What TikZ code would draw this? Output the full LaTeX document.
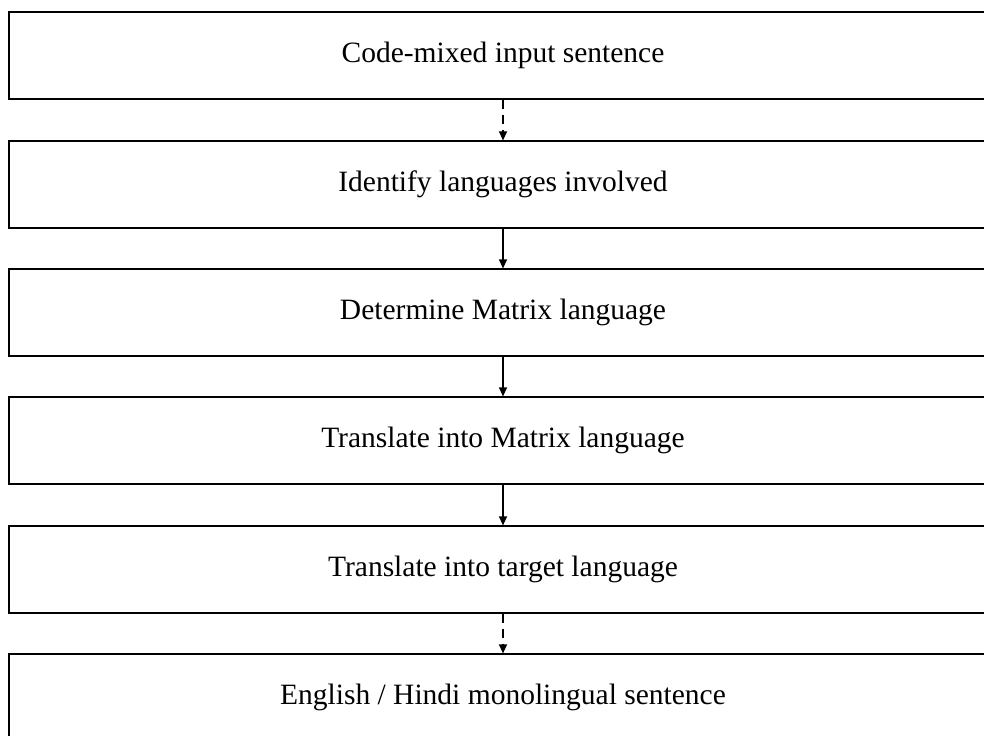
\documentclass[tikz,border=0pt]{standalone}
\usepackage{fontspec}
\setmainfont{Liberation Serif}
\usetikzlibrary{arrows.meta}
\begin{document}
\begin{tikzpicture}[x=1bp,y=-1bp,
  stepbox/.style={draw=black,line width=1.2bp,minimum width=988bp,minimum height=87bp,inner sep=0pt,
    font=\fontsize{29.5bp}{35bp}\selectfont},
  solidarrow/.style={draw=black,line width=1.2bp,-{Triangle[length=9bp,width=8bp]}},
  dasharrow/.style={solidarrow,dash pattern=on 9bp off 6bp}]
\useasboundingbox (0,0) rectangle (984,736);
\clip (0,0) rectangle (984,736);
\node[stepbox] (b1) at (503,55.5) {Code-mixed input sentence};
\node[stepbox] (b2) at (503,184.5) {Identify languages involved};
\node[stepbox] (b3) at (503,312.5) {Determine Matrix language};
\node[stepbox] (b4) at (503,440.5) {Translate into Matrix language};
\node[stepbox] (b5) at (503,569.5) {Translate into target language};
\node[stepbox] (b6) at (503,697.5) {English / Hindi monolingual sentence};
\draw[dasharrow] (b1) -- (b2);
\draw[solidarrow] (b2) -- (b3);
\draw[solidarrow] (b3) -- (b4);
\draw[solidarrow] (b4) -- (b5);
\draw[dasharrow] (b5) -- (b6);
\end{tikzpicture}
\end{document}
